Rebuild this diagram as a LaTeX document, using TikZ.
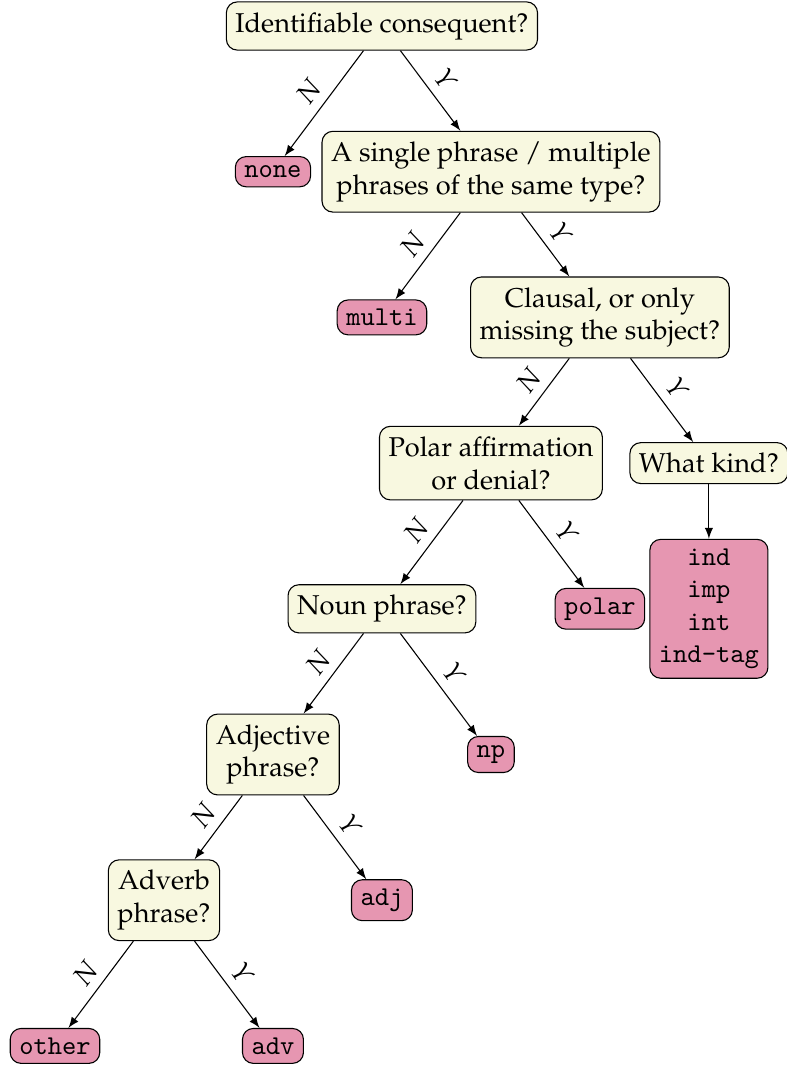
\documentclass[tikz,border=0pt]{standalone}
\usepackage{fontspec}
\usepackage[OT1]{fontenc}
\usepackage{mathpazo}
\usepackage{amsmath,amssymb}
\newfontfamily\codefont{Latin Modern Mono}

\definecolor{qfill}{RGB}{248,248,224}
\definecolor{afill}{RGB}{230,150,177}

\begin{document}
\begin{tikzpicture}[x=40.07pt, y=53.57pt, >=latex,
  quest/.style={draw, rounded corners=4pt, fill=qfill, align=center, inner ysep=3.8pt},
  answer/.style={draw, rounded corners=4pt, fill=afill, align=center, font=\codefont},
  lbl/.style={sloped, above, midway}]

\useasboundingbox (-0.5046,0.1784) rectangle (6.7156,-7.131);

% -------- Questions -----------
\node [quest] (ident)  at (3, 0) {Identifiable consequent?};
\node [quest] (single) at (4,-1) {A single phrase / multiple\\phrases of the same type?};
\node [quest] (claus)  at (5,-2) {Clausal, or only\\missing the subject?};
\node [quest] (polq)   at (4,-3) {Polar affirmation\\or denial?};
\node [quest] (kind)   at (6,-3) {What kind?};
\node [quest] (noun)   at (3,-4) {Noun phrase?};
\node [quest] (adjq)   at (2,-5) {Adjective\\phrase?};
\node [quest] (advq)   at (1,-6) {Adverb\\phrase?};

% -------- Answers -----------
\node [answer] (none)  at (2,-1) {none};
\node [answer] (multi) at (3,-2) {multi};
\node [answer] (polar) at (5,-4) {polar};
\node [answer] (types) at (6,-4) {ind\\imp\\int\\ind-tag};
\node [answer] (np)    at (4,-5) {np};
\node [answer] (adj)   at (3,-6) {adj};
\node [answer] (other) at (0,-7) {other};
\node [answer] (adv)   at (2,-7) {adv};

% -------- Edges -----------
\draw [->] (ident)  -- node[lbl] {$N$} (none);
\draw [->] (ident)  -- node[lbl] {$Y$} (single);
\draw [->] (single) -- node[lbl] {$N$} (multi);
\draw [->] (single) -- node[lbl] {$Y$} (claus);
\draw [->] (claus)  -- node[lbl] {$N$} (polq);
\draw [->] (claus)  -- node[lbl] {$Y$} (kind);
\draw [->] (kind)   -- (types);
\draw [->] (polq)   -- node[lbl] {$N$} (noun);
\draw [->] (polq)   -- node[lbl] {$Y$} (polar);
\draw [->] (noun)   -- node[lbl] {$N$} (adjq);
\draw [->] (noun)   -- node[lbl] {$Y$} (np);
\draw [->] (adjq)   -- node[lbl] {$N$} (advq);
\draw [->] (adjq)   -- node[lbl] {$Y$} (adj);
\draw [->] (advq)   -- node[lbl] {$N$} (other);
\draw [->] (advq)   -- node[lbl] {$Y$} (adv);

\end{tikzpicture}
\end{document}
